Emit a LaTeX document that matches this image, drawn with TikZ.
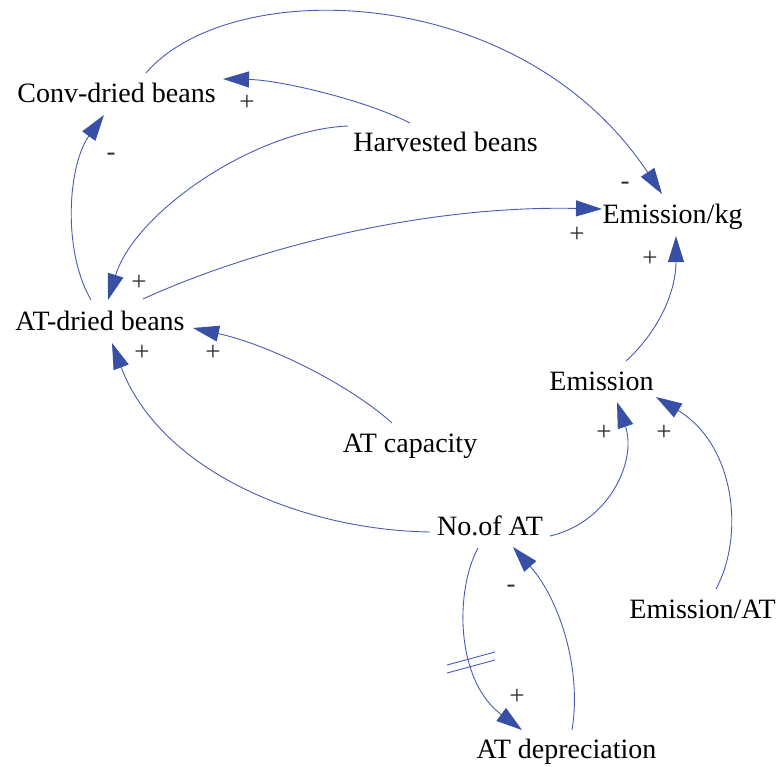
\documentclass[tikz,border=0pt]{standalone}
\usepackage{fontspec}
\setmainfont{Liberation Serif}
\usetikzlibrary{arrows.meta,calc}

\definecolor{linkblue}{RGB}{72,92,182}
\definecolor{headblue}{RGB}{55,80,165}
\definecolor{signgray}{RGB}{45,45,45}

\begin{document}
\begin{tikzpicture}[x=1pt,y=-1pt,
  var/.style={font=\fontsize{28}{30}\selectfont, inner sep=0pt, anchor=base},
  sgn/.style={font=\fontsize{27}{28}\selectfont, text=signgray, inner sep=0pt},
  link/.style={draw=linkblue, line width=0.9pt,
    -{Triangle[length=26pt,width=16pt,color=headblue]}},
  delaymark/.style={draw=linkblue, line width=0.9pt}]
\useasboundingbox (0,0) rectangle (778,767);

% variables
\node[var] (cdb)   at (116.5,103) {Conv-dried beans};
\node[var] (hb)    at (445.5,152) {Harvested beans};
\node[var] (ekg)   at (672.5,223) {Emission/kg};
\node[var] (atd)   at (100,330)   {AT-dried beans};
\node[var] (em)    at (601.5,390) {Emission};
\node[var] (atc)   at (410,452)   {AT capacity};
\node[var] (noat)  at (490,535)   {No.of AT};
\node[var] (emat)  at (702.5,618) {Emission/AT};
\node[var] (atdep) at (566.5,758) {AT depreciation};

% causal links
\draw[link] ($(hb.base)+(-35.5,-29)$) .. controls (365,100) and (280,80) .. ($(cdb.base)+(106.5,-24)$);
\draw[link] ($(hb.base)+(-97.5,-26)$) .. controls (255,130) and (135,212) .. ($(atd.base)+(8,-30)$);
\draw[link] ($(atd.base)+(-9,-30)$) .. controls (62,250) and (68,165) .. ($(cdb.base)+(-12.5,12)$);
\draw[link] ($(cdb.base)+(29.5,-30)$) .. controls (230,-25) and (520,-20) .. ($(ekg.base)+(-10.5,-29)$);
\draw[link] ($(atd.base)+(43,-31)$) .. controls (250,250) and (420,205) .. ($(ekg.base)+(-70.5,-14)$);
\draw[link] ($(em.base)+(24.5,-29)$) .. controls (660,330) and (676,290) .. ($(ekg.base)+(3.5,13)$);
\draw[link] ($(atc.base)+(-18,-29)$) .. controls (350,385) and (270,345) .. ($(atd.base)+(93,-2)$);
\draw[link] ($(noat.base)+(-60,-3)$) .. controls (300,530) and (160,470) .. ($(atd.base)+(12,13)$);
\draw[link] ($(noat.base)+(60,1)$) .. controls (610,522) and (637,460) .. ($(em.base)+(15.5,12)$);
\draw[link] ($(emat.base)+(13.5,-29)$) .. controls (745,535) and (735,445) .. ($(em.base)+(54.5,7)$);
\draw[link] ($(noat.base)+(-12,13)$) .. controls (455,590) and (455,680) .. ($(atdep.base)+(-44.5,-28)$);
\draw[link] ($(atdep.base)+(5.5,-28)$) .. controls (582,670) and (560,600) .. ($(noat.base)+(23,12)$);

% delay mark on the depreciation link
\coordinate (dl) at (471,662);
\draw[delaymark] ($(dl)+(-24,3)$) -- ($(dl)+(24,-10)$);
\draw[delaymark] ($(dl)+(-24,11)$) -- ($(dl)+(24,-2)$);

% link polarities
\node[sgn] (s1)  at (247,103)   {+};
\node[sgn] (s2)  at (139,283)   {+};
\node[sgn] (s3)  at (111,156.5) {-};
\node[sgn] (s4)  at (625,185.5) {-};
\node[sgn] (s5)  at (577,235)   {+};
\node[sgn] (s6)  at (650,259)   {+};
\node[sgn] (s7)  at (213,353)   {+};
\node[sgn] (s8)  at (142,353)   {+};
\node[sgn] (s9)  at (604,433)   {+};
\node[sgn] (s10) at (664,433)   {+};
\node[sgn] (s11) at (517,697)   {+};
\node[sgn] (s12) at (511,588.5) {-};
\end{tikzpicture}
\end{document}
